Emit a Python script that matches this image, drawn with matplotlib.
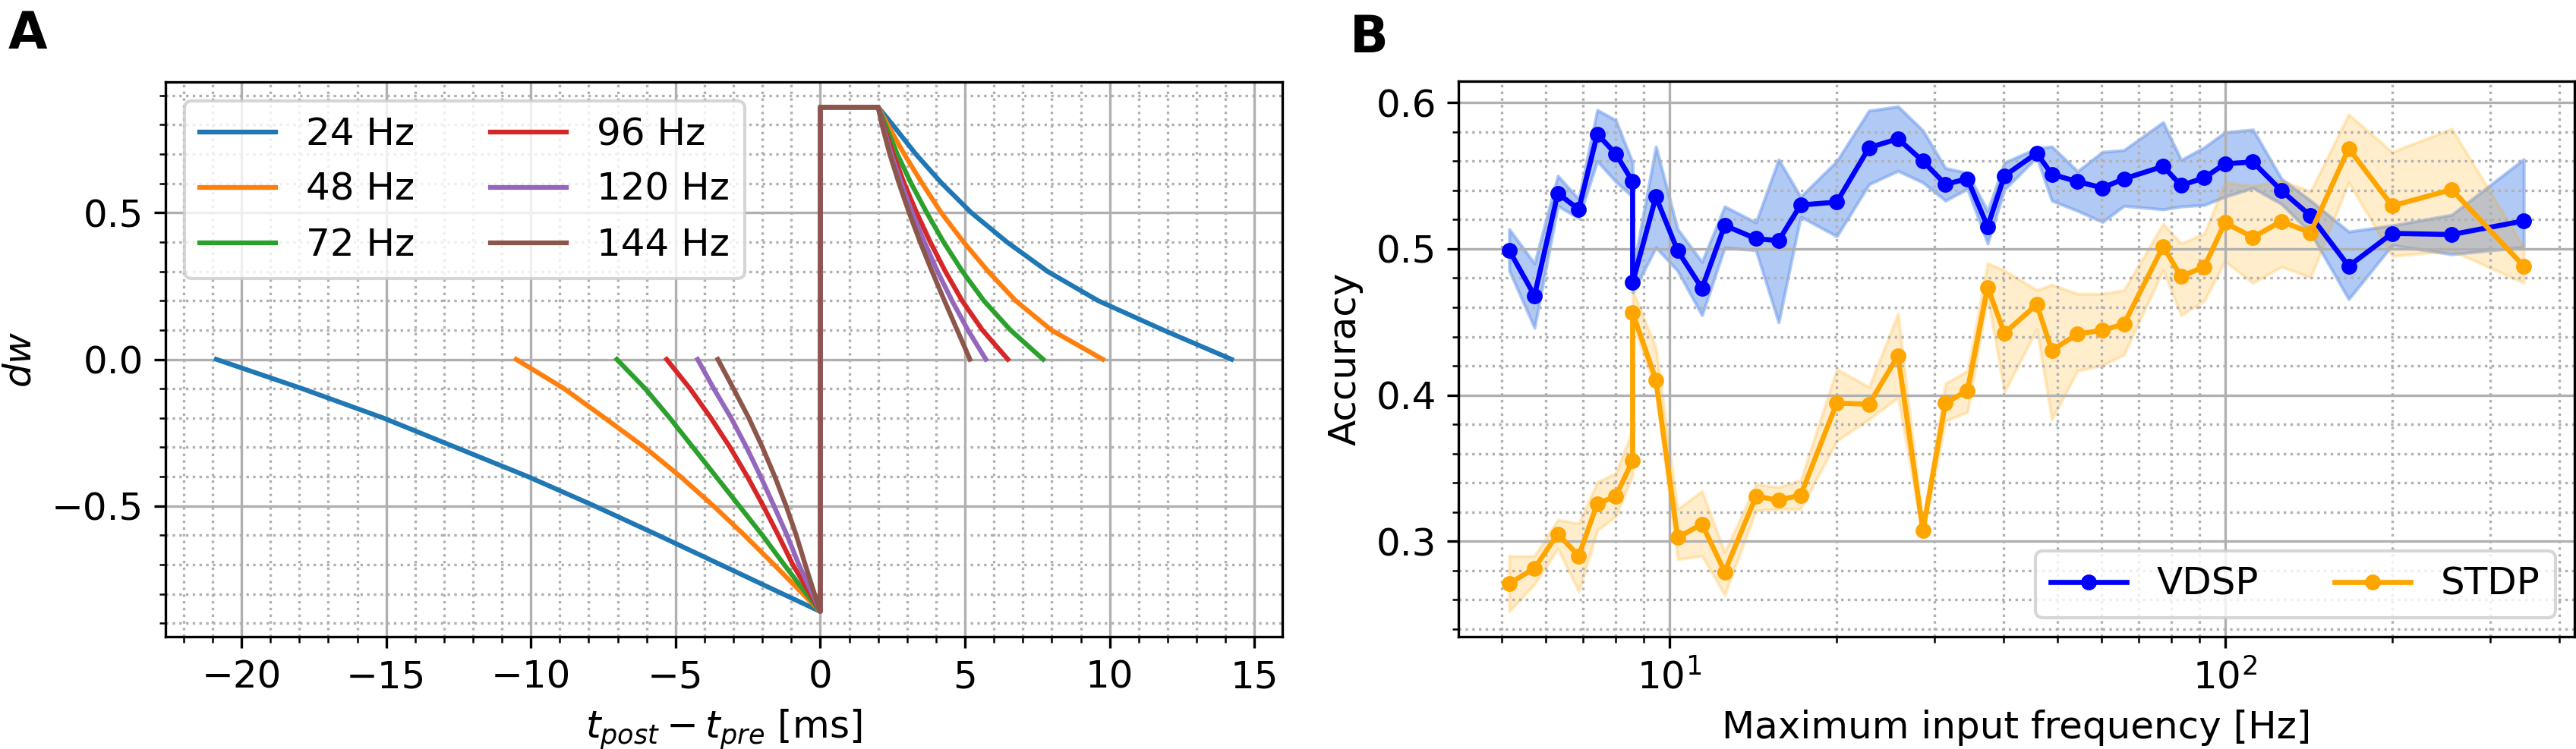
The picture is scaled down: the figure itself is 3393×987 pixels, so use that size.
import matplotlib
matplotlib.use("Agg")
import matplotlib.pyplot as plt
import numpy as np

plt.rcParams['font.family'] = ['DejaVu Sans']
plt.rcParams['font.size'] = 12

# ---------------- Panel A data ----------------
freq_labels = ["24 Hz", "48 Hz", "72 Hz", "96 Hz", "120 Hz", "144 Hz"]
amp = 0.86
plateau_end = 2.0

# dw levels for the negative branches (t from start to 0)
neg_dw = [0.0, -0.1, -0.2, -0.3, -0.4, -0.5, -0.6, -0.7, -0.8, -0.86]
neg_t_24 = [-20.87, -17.9, -15.1, -12.6, -10.1, -7.8, -5.6, -3.45, -1.3, 0.0]
neg_t_48 = [-10.51, -8.85, -7.45, -6.07, -4.83, -3.69, -2.62, -1.6, -0.6, 0.0]
neg_t_72 = [-7.03, -6.05, -5.2, -4.4, -3.6, -2.8, -2.0, -1.25, -0.48, 0.0]
neg_t_96 = [-5.31, -4.5, -3.78, -3.12, -2.52, -1.97, -1.45, -0.95, -0.35, 0.0]
neg_t_120 = [-4.24, -3.68, -3.08, -2.55, -2.06, -1.6, -1.15, -0.74, -0.27, 0.0]
neg_t_144 = [-3.54, -3.0, -2.47, -2.0, -1.57, -1.18, -0.83, -0.52, -0.2, 0.0]

# dw levels for the positive branches (t from plateau end to zero crossing)
pos_dw = [0.86, 0.8, 0.7, 0.6, 0.5, 0.4, 0.3, 0.2, 0.1, 0.0]
pos_t_24 = [2.0, 2.5, 3.3, 4.2, 5.22, 6.45, 7.85, 9.6, 11.85, 14.21]
pos_t_48 = [2.0, 2.33, 2.9, 3.52, 4.18, 4.95, 5.8, 6.75, 7.98, 9.76]
pos_t_72 = [2.0, 2.25, 2.66, 3.14, 3.68, 4.26, 4.91, 5.65, 6.57, 7.7]
pos_t_96 = [2.0, 2.18, 2.52, 2.9, 3.33, 3.8, 4.32, 4.9, 5.6, 6.48]
pos_t_120 = [2.0, 2.15, 2.45, 2.8, 3.18, 3.6, 4.05, 4.55, 5.1, 5.72]
pos_t_144 = [2.0, 2.13, 2.4, 2.72, 3.07, 3.45, 3.86, 4.29, 4.73, 5.17]

neg_ts = [neg_t_24, neg_t_48, neg_t_72, neg_t_96, neg_t_120, neg_t_144]
pos_ts = [pos_t_24, pos_t_48, pos_t_72, pos_t_96, pos_t_120, pos_t_144]

# ---------------- Panel B data ----------------
freq = [5.15, 5.72, 6.30, 6.87, 7.42, 8.01, 8.59, 8.59, 9.46, 10.35,
        11.45, 12.58, 14.32, 15.73, 17.23, 20.02, 22.88, 25.8, 28.6, 31.4,
        34.4, 37.4, 40.1, 45.85, 48.8, 54.3, 60.2, 65.8, 77.4, 83.4,
        91.8, 100.0, 112.3, 126.4, 142.6, 167.0, 200.0, 256.0, 345.0]

vdsp = [0.499, 0.468, 0.538, 0.527, 0.5785, 0.565, 0.546, 0.477, 0.5356, 0.4988,
        0.473, 0.516, 0.507, 0.5056, 0.530, 0.532, 0.5692, 0.5753, 0.560, 0.5442,
        0.5479, 0.5152, 0.5499, 0.5655, 0.551, 0.546, 0.5417, 0.5479, 0.5564, 0.5434,
        0.5486, 0.5582, 0.5594, 0.5398, 0.5226, 0.4882, 0.5106, 0.5098, 0.5191]
vdsp_lo = [0.4853, 0.446, 0.5294, 0.521, 0.560, 0.546, 0.5356, 0.470, 0.501, 0.485,
           0.4546, 0.501, 0.499, 0.4497, 0.522, 0.5086, 0.5442, 0.5533, 0.5454, 0.533,
           0.541, 0.5037, 0.5405, 0.5626, 0.533, 0.526, 0.5184, 0.5294, 0.527, 0.529,
           0.530, 0.5356, 0.5417, 0.5307, 0.511, 0.4656, 0.5025, 0.4963, 0.5012]
vdsp_hi = [0.5135, 0.490, 0.550, 0.534, 0.595, 0.588, 0.559, 0.484, 0.570, 0.5135,
           0.491, 0.529, 0.518, 0.561, 0.5356, 0.560, 0.5945, 0.5974, 0.581, 0.5552,
           0.552, 0.5258, 0.559, 0.5687, 0.570, 0.553, 0.5663, 0.5675, 0.5866, 0.5608,
           0.5694, 0.5797, 0.5816, 0.5479, 0.533, 0.5118, 0.516, 0.5233, 0.5613]

stdp = [0.271, 0.2816, 0.305, 0.290, 0.3258, 0.3307, 0.3552, 0.4563, 0.4104, 0.3025,
        0.3118, 0.2791, 0.3307, 0.3282, 0.3314, 0.3945, 0.3937, 0.4269, 0.3074, 0.3945,
        0.4031, 0.4737, 0.4423, 0.462, 0.4306, 0.4418, 0.4443, 0.4485, 0.5017, 0.4811,
        0.4877, 0.5179, 0.5079, 0.5189, 0.511, 0.5687, 0.5294, 0.5405, 0.4882]
stdp_lo = [0.252, 0.2706, 0.295, 0.2656, 0.3074, 0.317, 0.345, 0.450, 0.403, 0.2877,
           0.290, 0.2632, 0.321, 0.322, 0.322, 0.3687, 0.3834, 0.3982, 0.304, 0.3822,
           0.3883, 0.4669, 0.402, 0.445, 0.3834, 0.4166, 0.4203, 0.4276, 0.4853, 0.4546,
           0.4644, 0.4914, 0.4767, 0.4877, 0.4804, 0.5454, 0.495, 0.4988, 0.4767]
stdp_hi = [0.290, 0.290, 0.3147, 0.3123, 0.3405, 0.3466, 0.376, 0.472, 0.4325, 0.322,
           0.3344, 0.2926, 0.339, 0.337, 0.3417, 0.4178, 0.4055, 0.4558, 0.311, 0.408,
           0.4166, 0.4902, 0.4853, 0.4718, 0.4755, 0.4693, 0.4693, 0.4718, 0.5172, 0.5037,
           0.5106, 0.5454, 0.543, 0.5466, 0.5393, 0.592, 0.5663, 0.5822, 0.5012]

# ---------------- Figure ----------------
W, H = 3393, 987
dpi = 300
fig = plt.figure(figsize=(W / dpi, H / dpi), dpi=dpi)

axA = fig.add_axes([218 / W, 1 - 839 / H, (1689 - 218) / W, (839 - 108) / H])
axB = fig.add_axes([1921 / W, 1 - 839 / H, (3391 - 1921) / W, (839 - 107) / H])

# Panel A
for lab, nt, pt in zip(freq_labels, neg_ts, pos_ts):
    t = list(nt) + [0.0, plateau_end] + list(pt)
    y = list(neg_dw) + [amp, amp] + list(pos_dw)
    axA.plot(t, y, label=lab, lw=1.5)

axA.minorticks_on()
axA.grid(True, which='major', ls='-', color='#b0b0b0', lw=0.8)
axA.grid(True, which='minor', ls=':', color='#b0b0b0', lw=0.8)
axA.set_xlabel(r'$t_{post} - t_{pre}$ [ms]')
axA.set_ylabel(r'$dw$')
axA.set_xticks([-20, -15, -10, -5, 0, 5, 10, 15])
axA.set_yticks([-0.5, 0.0, 0.5])
axA.legend(loc='upper left', ncol=2)

# Panel B
axB.fill_between(freq, vdsp_lo, vdsp_hi, color='cornflowerblue', alpha=0.5)
axB.fill_between(freq, stdp_lo, stdp_hi, color='orange', alpha=0.2)
axB.plot(freq, vdsp, color='blue', marker='o', ms=4, lw=1.6, label='VDSP')
axB.plot(freq, stdp, color='orange', marker='o', ms=4, lw=1.6, label='STDP')
axB.set_xscale('log')
axB.minorticks_on()
axB.grid(True, which='major', ls='-', color='#b0b0b0', lw=0.8)
axB.grid(True, which='minor', ls=':', color='#b0b0b0', lw=0.8)
axB.set_xlabel('Maximum input frequency [Hz]')
axB.set_ylabel('Accuracy')
axB.set_yticks([0.3, 0.4, 0.5, 0.6])
axB.legend(loc='lower right', ncol=2)

fig.text(11 / W, 1 - 12 / H, 'A', fontsize=16, fontweight='bold', va='top', ha='left')
fig.text(1778 / W, 1 - 17 / H, 'B', fontsize=16, fontweight='bold', va='top', ha='left')

fig.savefig('out.png', dpi=dpi)
